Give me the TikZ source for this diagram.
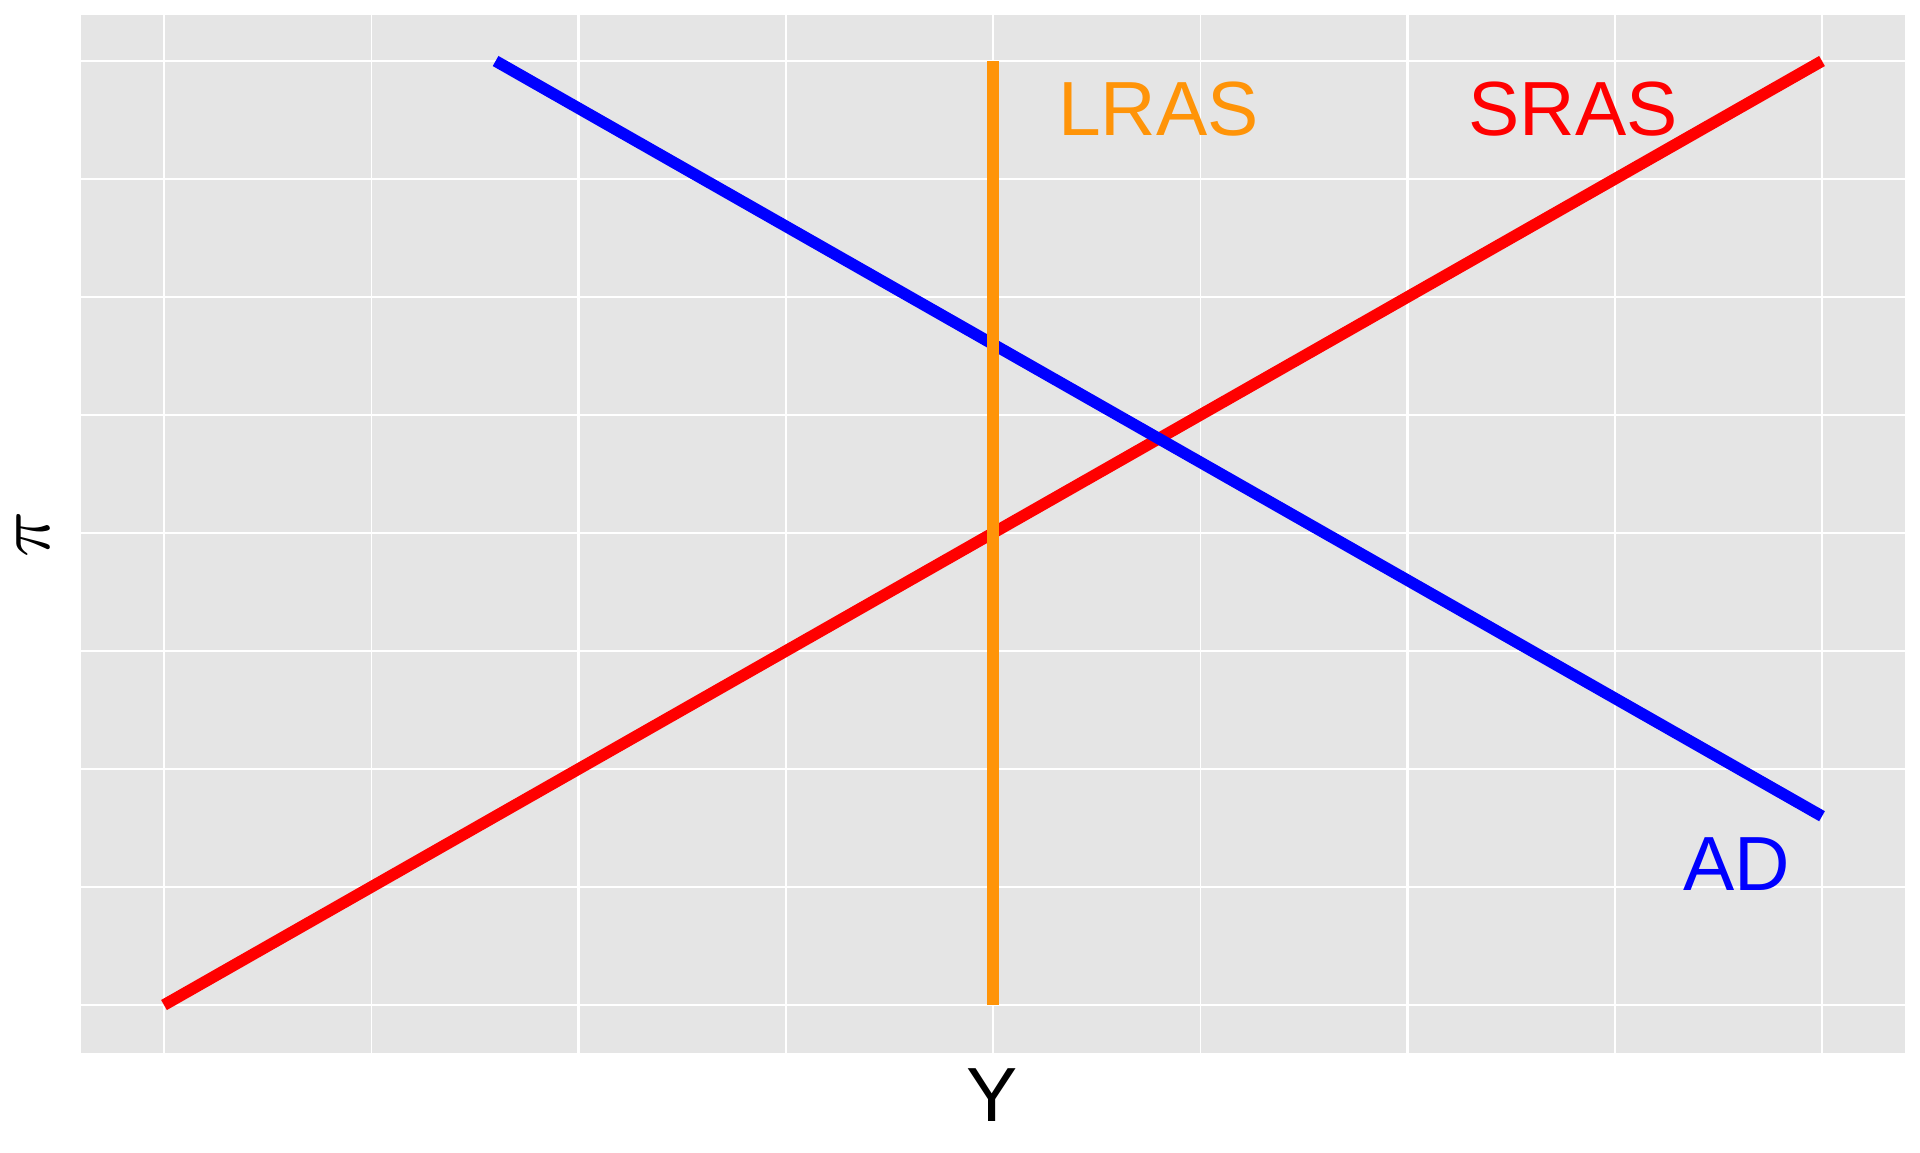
\documentclass[tikz,border=0pt]{standalone}
\usepackage{graphicx}
\usepackage{fontspec}
\setmainfont{Liberation Sans}
\definecolor{panelbg}{HTML}{E5E5E5}
\definecolor{lrascol}{HTML}{FF9408}
\definecolor{srascol}{HTML}{FF0000}
\definecolor{adcol}{HTML}{0000FF}
\begin{document}
\begin{tikzpicture}[x=0.5pt,y=-0.5pt,
  majorgrid/.style={draw=white,line width=1.35pt},
  minorgrid/.style={draw=white,line width=0.75pt},
  curve/.style={line width=5.8pt,line cap=butt},
  lbl/.style={inner sep=0pt,font=\fontsize{38.4}{46}\selectfont}]
\useasboundingbox (0,0) rectangle (1920,1152);
\fill[panelbg] (81,15) rectangle (1905,1053);
\foreach \y in {179,415,651,887} \draw[minorgrid] (81,\y) -- (1905,\y);
\foreach \x in {371.25,785.75,1200.25,1614.75} \draw[minorgrid] (\x,15) -- (\x,1053);
\foreach \y in {61,297,533,769,1005} \draw[majorgrid] (81,\y) -- (1905,\y);
\foreach \x in {164,578.5,993,1407.5,1822} \draw[majorgrid] (\x,15) -- (\x,1053);
% curves
\coordinate (sras0) at (164,1005);
\coordinate (sras1) at (1822,61);
\coordinate (ad0) at (495.6,61);
\coordinate (ad1) at (1822,816.2);
\coordinate (lras0) at (993,1005);
\coordinate (lras1) at (993,61);
\draw[curve,srascol] (sras0) -- (sras1);
\draw[curve,adcol] (ad0) -- (ad1);
\draw[curve,lrascol] (lras0) -- (lras1);
% labels
\node[lbl,text=lrascol] (lraslbl) at (1158.5,109.5) {LRAS};
\node[lbl,text=srascol] (sraslbl) at (1573,109.5) {SRAS};
\node[lbl,text=adcol] (adlbl) at (1737,864.5) {AD};
\node[lbl] (xlbl) at (992.5,1095) {Y};
\node[inner sep=0pt,rotate=90] (ylbl) at (33,534) {\scalebox{3.8}{$\pi$}};
\end{tikzpicture}
\end{document}
